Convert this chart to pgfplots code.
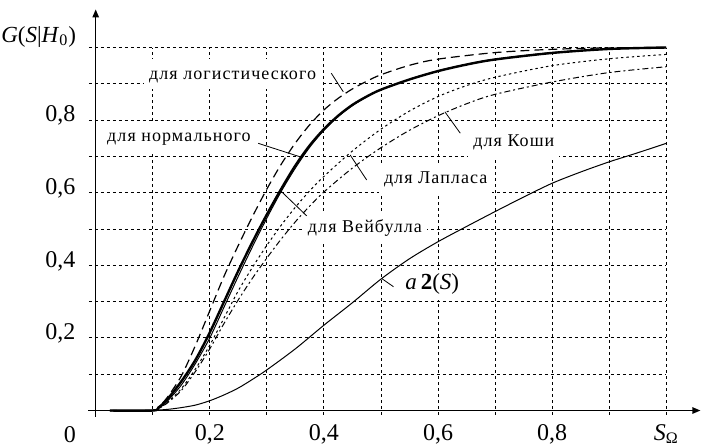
\documentclass[border=0pt]{standalone}
\usepackage{fontspec}
\setmainfont{Liberation Serif}
\newfontfamily\labfont[LetterSpace=6]{Liberation Serif}
\usepackage{pgfplots}
\pgfplotsset{compat=1.18}
\usetikzlibrary{arrows.meta}

\tikzset{
  gridline/.style={line width=0.45pt, dash pattern=on 1.5pt off 1.5pt},
  lab/.style={font=\labfont\fontsize{9}{10}\selectfont, fill=white,
    inner xsep=2.5pt, inner ysep=0pt, text height=10pt, text depth=5pt, anchor=base},
  ptr/.style={line width=0.4pt}
}

\begin{document}
\begin{tikzpicture}
\begin{axis}[
  x=285.25pt, y=181.5pt,
  xmin=-0.013, xmax=1.06, ymin=-0.017, ymax=1.105,
  axis lines=middle,
  axis line style={line width=0.7pt, -{Triangle[length=4pt,width=3.2pt]}},
  xtick={0.2,0.4,0.6,0.8,1},
  xticklabels={{0,2},{0,4},{0,6},{0,8},\textit{S}\textsubscript{Ω}},
  ytick={0.2,0.4,0.6,0.8},
  yticklabels={{0,2},{0,4},{0,6},{0,8}},
  major tick length=0pt,
  tick label style={font=\fontsize{12}{14}\selectfont},
  xticklabel style={anchor=base, yshift=-14.75pt},
  yticklabel style={anchor=base east, xshift=-6.6pt, yshift=-0.85pt},
  clip=false,
]
% grid
\pgfplotsinvokeforeach{0.1,0.2,0.3,0.4,0.5,0.6,0.7,0.8,0.9,1.0}{
  \draw[gridline] (axis cs:#1,-0.012) -- (axis cs:#1,1);
  \draw[gridline] (axis cs:-0.012,#1) -- (axis cs:1,#1);
}

% labels
\node[lab] at (axis cs:0.24,0.913) {для логистического};
\node[lab] at (axis cs:0.146,0.741) {для нормального};
\node[lab] at (axis cs:0.472,0.49) {для Вейбулла};
\node[lab] at (axis cs:0.596,0.626) {для Лапласа};
\node[lab] at (axis cs:0.733,0.727) {для Коши};
\node[lab, font=\fontsize{11.5}{12}\selectfont] at (axis cs:0.59,0.332)
  {\textit{a}\,\textbf{2}(\textit{S})};

% logistic
\addplot[black, line width=0.6pt, dash pattern=on 4.5pt off 2.5pt, smooth] table {
0.025 0
0.1 0
0.11 0.01
0.125 0.035
0.15 0.095
0.175 0.18
0.2 0.275
0.225 0.37
0.25 0.455
0.275 0.535
0.3 0.61
0.325 0.678
0.35 0.737
0.375 0.787
0.4 0.828
0.425 0.86
0.45 0.886
0.475 0.907
0.5 0.925
0.55 0.951
0.6 0.968
0.7 0.986
0.8 0.995
0.9 0.999
1.0 1.0
};
% normal
\addplot[black, line width=1.2pt, smooth] table {
0.025 0
0.1 0
0.11 0.008
0.125 0.03
0.15 0.08
0.175 0.14
0.2 0.215
0.225 0.3
0.25 0.385
0.275 0.465
0.3 0.54
0.325 0.61
0.35 0.675
0.375 0.73
0.4 0.775
0.425 0.812
0.45 0.842
0.475 0.865
0.5 0.884
0.55 0.912
0.6 0.935
0.65 0.953
0.7 0.967
0.8 0.985
0.9 0.996
1.0 1.0
};
% Weibull
\addplot[black, line width=0.5pt, smooth] table {
0.025 0
0.1 0
0.11 0.006
0.125 0.025
0.15 0.07
0.175 0.13
0.2 0.2
0.225 0.285
0.25 0.37
0.275 0.452
0.3 0.53
0.325 0.603
0.35 0.668
0.375 0.725
0.4 0.772
0.425 0.81
0.45 0.84
0.475 0.864
0.5 0.884
0.55 0.912
0.6 0.936
0.65 0.954
0.7 0.968
0.8 0.986
0.9 0.996
1.0 1.0
};
% Laplace
\addplot[black, line width=0.5pt, dash pattern=on 1.2pt off 1.5pt, smooth] table {
0.025 0
0.1 0
0.11 0.006
0.125 0.022
0.15 0.06
0.175 0.115
0.2 0.18
0.225 0.255
0.25 0.33
0.275 0.395
0.3 0.455
0.325 0.51
0.35 0.56
0.375 0.605
0.4 0.645
0.45 0.715
0.5 0.775
0.55 0.825
0.6 0.865
0.65 0.895
0.7 0.918
0.8 0.95
0.9 0.969
1.0 0.981
};
% Cauchy
\addplot[black, line width=0.5pt, dash pattern=on 3pt off 1.5pt on 1pt off 1.5pt, smooth] table {
0.025 0
0.1 0
0.11 0.005
0.125 0.02
0.15 0.055
0.175 0.108
0.2 0.17
0.225 0.24
0.25 0.305
0.275 0.365
0.3 0.42
0.325 0.472
0.35 0.52
0.375 0.563
0.4 0.602
0.45 0.668
0.5 0.724
0.55 0.772
0.6 0.812
0.65 0.845
0.7 0.871
0.8 0.905
0.9 0.931
1.0 0.947
};
% a2(S)
\addplot[black, line width=0.5pt, smooth] table {
0.025 0
0.1 0.001
0.125 0.003
0.15 0.008
0.175 0.015
0.2 0.027
0.225 0.043
0.25 0.062
0.275 0.086
0.3 0.112
0.35 0.17
0.4 0.235
0.45 0.297
0.5 0.362
0.55 0.418
0.6 0.465
0.65 0.507
0.7 0.548
0.75 0.588
0.8 0.626
0.85 0.657
0.9 0.685
0.95 0.71
1.0 0.736
};

% pointers
\draw[ptr] (axis cs:0.413,0.929) -- (axis cs:0.434,0.878);
\draw[ptr] (axis cs:0.285,0.736) -- (axis cs:0.358,0.699);
\draw[ptr] (axis cs:0.323,0.607) -- (axis cs:0.370,0.536);
\draw[ptr] (axis cs:0.446,0.704) -- (axis cs:0.475,0.635);
\draw[ptr] (axis cs:0.612,0.823) -- (axis cs:0.639,0.764);
\draw[ptr] (axis cs:0.501,0.364) -- (axis cs:0.522,0.341);

% axis texts
\node[anchor=base east, font=\fontsize{11.5}{12}\selectfont] at (axis cs:-0.022,1.015)
  {\textit{G}(\textit{S}|\textit{H}\textsubscript{0})};
\node[anchor=base east, xshift=-6.35pt, yshift=-15.75pt, font=\fontsize{12}{14}\selectfont]
  at (axis cs:0,0) {0};

\coordinate (bl) at (axis cs:-0.16775,-0.095);
\coordinate (tr) at (axis cs:1.06275,1.1309);
\end{axis}
\pgfresetboundingbox
\path[use as bounding box] (bl) rectangle (tr);
\end{tikzpicture}
\end{document}
